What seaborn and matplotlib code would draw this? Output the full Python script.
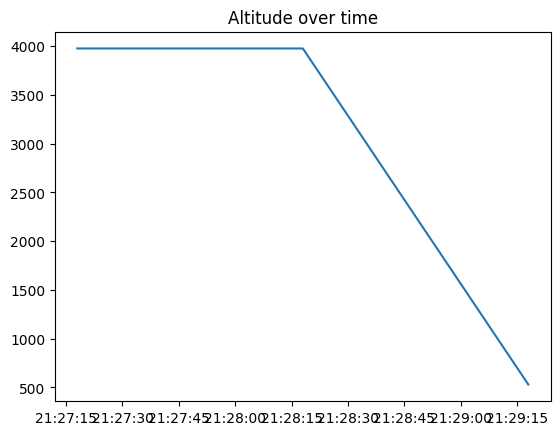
import matplotlib
matplotlib.use("Agg")
import matplotlib.pyplot as plt
import seaborn as sns
import pandas as pd

# readings
times = ["2023-01-01 21:27:18", "2023-01-01 21:28:18", "2023-01-01 21:29:18"]
altitude = [3977, 3977, 530]

df = pd.DataFrame({"time": pd.to_datetime(times), "altitude": altitude})

fig, ax = plt.subplots(figsize=(6.4, 4.8), dpi=100)
sns.lineplot(data=df, x="time", y="altitude", ax=ax)
ax.set_title("Altitude over time")
ax.set_xlabel("")
ax.set_ylabel("")
fig.savefig("out.png", bbox_inches="tight")
